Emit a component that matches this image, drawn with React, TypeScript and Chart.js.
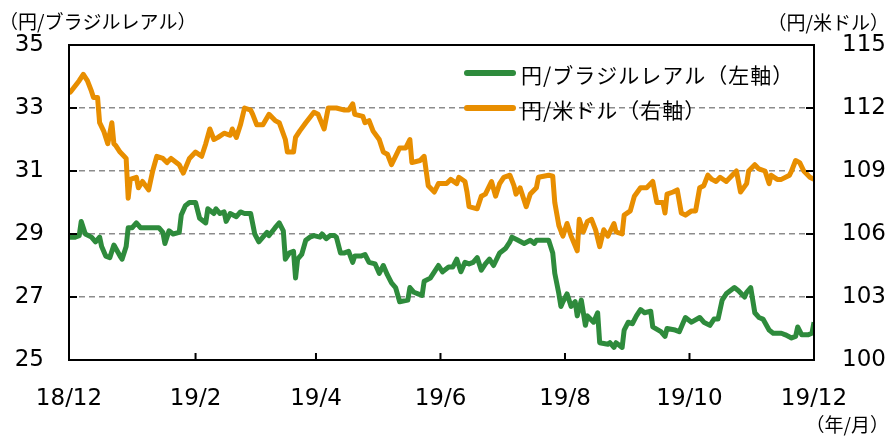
import React, { useEffect, useRef } from "react";
import { Chart, registerables } from "chart.js";

Chart.register(...registerables);

// x values are days counted from 2018-12-01
const xTickDays = [0, 62, 121, 182, 243, 304, 365];
const xTickLabels = ["18/12", "19/2", "19/4", "19/6", "19/8", "19/10", "19/12"];

const leftTitle = "（円/ブラジルレアル）";
const rightTitle = "（円/米ドル）";
const xTitle = "（年/月）";

const brlLabel = "円/ブラジルレアル（左軸）";
const usdLabel = "円/米ドル（右軸）";

const brlDays = [0, 3, 5, 6, 8, 11, 13, 15, 16, 18, 20, 22, 25, 26, 28, 29, 31, 33, 35, 38, 42, 44, 46, 47, 49, 51, 54, 55, 57, 59, 62, 64, 67, 68, 71, 72, 74, 76, 77, 79, 82, 84, 86, 89, 91, 93, 95, 97, 98, 101, 103, 105, 106, 108, 110, 111, 112, 114, 116, 118, 120, 123, 124, 126, 128, 130, 131, 133, 135, 137, 139, 140, 143, 145, 147, 150, 152, 154, 156, 158, 160, 162, 166, 167, 169, 171, 173, 174, 177, 179, 181, 183, 186, 188, 190, 192, 194, 196, 198, 200, 202, 204, 206, 208, 211, 214, 216, 217, 220, 223, 226, 228, 229, 232, 235, 237, 238, 240, 241, 242, 244, 246, 248, 249, 251, 253, 254, 257, 259, 260, 264, 265, 267, 268, 271, 272, 274, 276, 278, 280, 282, 285, 286, 290, 292, 293, 297, 299, 302, 305, 309, 311, 314, 316, 318, 320, 322, 326, 328, 331, 332, 334, 336, 338, 340, 343, 345, 349, 351, 354, 356, 357, 359, 362, 364, 365];
const brlValues = [28.9, 28.9, 28.95, 29.4, 29.0, 28.9, 28.75, 28.9, 28.6, 28.3, 28.25, 28.65, 28.3, 28.2, 28.6, 29.2, 29.2, 29.35, 29.2, 29.2, 29.2, 29.2, 29.05, 28.7, 29.1, 29.0, 29.05, 29.6, 29.9, 30.0, 30.0, 29.5, 29.35, 29.8, 29.65, 29.8, 29.65, 29.7, 29.4, 29.65, 29.55, 29.7, 29.65, 29.65, 29.0, 28.75, 28.9, 29.05, 28.95, 29.2, 29.35, 29.1, 28.2, 28.4, 28.45, 27.6, 28.2, 28.35, 28.8, 28.9, 28.95, 28.9, 29.0, 28.85, 28.95, 28.95, 28.9, 28.4, 28.4, 28.45, 28.1, 28.3, 28.3, 28.35, 28.1, 28.05, 27.75, 28.0, 27.7, 27.45, 27.3, 26.85, 26.9, 27.3, 27.15, 27.1, 27.05, 27.5, 27.6, 27.8, 28.0, 27.8, 27.95, 27.95, 28.2, 27.8, 28.1, 28.05, 28.1, 28.25, 27.85, 28.05, 28.2, 28.0, 28.4, 28.55, 28.75, 28.9, 28.8, 28.7, 28.8, 28.7, 28.8, 28.8, 28.8, 28.4, 27.75, 27.1, 26.7, 26.85, 27.1, 26.7, 26.85, 26.4, 26.9, 26.1, 26.4, 26.2, 26.5, 25.55, 25.5, 25.55, 25.4, 25.55, 25.4, 25.95, 26.2, 26.15, 26.4, 26.6, 26.5, 26.55, 26.05, 25.9, 25.75, 26.0, 25.95, 25.9, 26.35, 26.2, 26.35, 26.2, 26.1, 26.3, 26.3, 26.9, 27.1, 27.3, 27.2, 27.0, 27.15, 27.3, 26.5, 26.35, 26.3, 25.95, 25.85, 25.85, 25.8, 25.7, 25.75, 26.05, 25.8, 25.8, 25.85, 26.2];

const usdDays = [0, 1, 5, 7, 9, 11, 12, 14, 15, 17, 19, 21, 22, 23, 25, 27, 28, 29, 30, 33, 34, 36, 39, 41, 43, 46, 48, 50, 54, 56, 59, 62, 65, 67, 69, 71, 73, 76, 79, 80, 82, 84, 86, 89, 90, 92, 95, 98, 101, 103, 106, 107, 110, 111, 113, 116, 120, 122, 125, 127, 131, 135, 137, 139, 140, 144, 145, 147, 149, 152, 154, 156, 158, 162, 165, 167, 168, 172, 174, 176, 179, 181, 185, 187, 190, 191, 194, 195, 196, 200, 202, 204, 207, 209, 211, 213, 216, 218, 219, 221, 224, 226, 229, 230, 235, 237, 238, 240, 242, 244, 246, 249, 250, 252, 254, 256, 258, 260, 262, 264, 267, 268, 271, 272, 275, 277, 280, 283, 286, 288, 291, 292, 293, 296, 298, 300, 302, 305, 307, 309, 311, 313, 315, 317, 319, 322, 324, 327, 329, 332, 333, 336, 338, 341, 343, 344, 347, 349, 353, 354, 356, 358, 360, 363, 365];
const usdValues = [112.7, 112.8, 113.3, 113.6, 113.3, 112.8, 112.5, 112.5, 111.3, 110.9, 110.3, 111.3, 110.3, 110.2, 109.9, 109.7, 109.6, 107.7, 108.6, 108.7, 108.2, 108.5, 108.1, 109.0, 109.7, 109.6, 109.4, 109.6, 109.3, 108.9, 109.6, 109.9, 109.7, 110.3, 111.0, 110.5, 110.6, 110.8, 110.7, 111.0, 110.6, 111.2, 112.0, 111.9, 111.7, 111.2, 111.2, 111.7, 111.4, 111.3, 110.5, 109.9, 109.9, 110.6, 110.9, 111.3, 111.8, 111.7, 111.0, 112.0, 112.0, 111.9, 111.9, 112.2, 111.7, 111.6, 111.3, 111.4, 110.9, 110.5, 109.9, 109.8, 109.3, 110.1, 110.1, 110.5, 109.4, 109.5, 109.7, 108.3, 108.0, 108.4, 108.4, 108.6, 108.4, 108.7, 108.5, 108.0, 107.3, 107.2, 107.8, 107.9, 108.5, 107.8, 108.4, 108.7, 108.8, 108.3, 107.9, 108.2, 107.3, 107.9, 108.2, 108.7, 108.8, 108.75, 107.5, 106.4, 105.9, 106.5, 105.9, 105.2, 106.7, 106.1, 106.6, 106.7, 106.2, 105.4, 106.2, 105.9, 106.5, 106.1, 106.0, 106.9, 107.1, 107.8, 108.2, 108.2, 108.5, 107.5, 107.5, 107.0, 107.9, 108.0, 108.1, 107.0, 106.9, 107.1, 107.1, 108.2, 108.3, 108.8, 108.6, 108.5, 108.7, 108.5, 108.7, 109.0, 108.0, 108.4, 109.0, 109.3, 109.1, 109.0, 108.4, 108.8, 108.6, 108.6, 108.8, 109.0, 109.5, 109.4, 109.0, 108.7, 108.6];

const GREEN = "#2e8b3c";
const ORANGE = "#e88e00";
const NUM_FONT = "'DejaVu Sans', sans-serif";
const JP_FONT = "'Noto Sans CJK JP', sans-serif";

const decorPlugin = {
  id: "decor",
  afterDraw(chart: any) {
    const { ctx, chartArea } = chart;
    const { left, right, top, bottom } = chartArea;
    const x = chart.scales.x;
    const y = chart.scales.y;
    const y1 = chart.scales.y1;
    ctx.save();
    // frame
    ctx.strokeStyle = "#000";
    ctx.lineWidth = 2;
    ctx.setLineDash([]);
    ctx.beginPath();
    ctx.moveTo(left, top);
    ctx.lineTo(right, top);
    ctx.moveTo(left, top - 1);
    ctx.lineTo(left, bottom + 1);
    ctx.moveTo(right, top - 1);
    ctx.lineTo(right, bottom + 1);
    ctx.moveTo(left - 1, bottom);
    ctx.lineTo(right + 1, bottom);
    ctx.stroke();
    // inward ticks
    ctx.beginPath();
    y.ticks.forEach((t: any) => {
      const py = y.getPixelForValue(t.value);
      ctx.moveTo(left, py);
      ctx.lineTo(left + 8, py);
    });
    y1.ticks.forEach((t: any) => {
      const py = y1.getPixelForValue(t.value);
      ctx.moveTo(right, py);
      ctx.lineTo(right - 8, py);
    });
    x.ticks.forEach((t: any) => {
      const px = x.getPixelForValue(t.value);
      ctx.moveTo(px, bottom);
      ctx.lineTo(px, bottom - 7);
    });
    ctx.stroke();
    // axis titles
    ctx.fillStyle = "#000";
    ctx.font = `19px ${JP_FONT}`;
    ctx.textBaseline = "middle";
    ctx.textAlign = "left";
    ctx.fillText(leftTitle, -1, 22);
    ctx.textAlign = "right";
    ctx.fillText(rightTitle, 889, 23);
    ctx.fillText(xTitle, 889, 425);
    // legend
    const items = chart.data.datasets.map((d: any) => ({ label: d.label, color: d.borderColor }));
    const rows = [73, 108];
    ctx.font = `21px ${JP_FONT}`;
    ctx.textAlign = "left";
    try {
      (ctx as any).letterSpacing = "1px";
    } catch (e) {}
    items.forEach((it: any, i: number) => {
      ctx.strokeStyle = it.color;
      ctx.lineWidth = 6;
      ctx.lineCap = "round";
      ctx.beginPath();
      ctx.moveTo(467, rows[i]);
      ctx.lineTo(513, rows[i]);
      ctx.stroke();
      ctx.fillStyle = "#000";
      ctx.fillText(it.label, 521, rows[i] + 2);
    });
    try {
      (ctx as any).letterSpacing = "0px";
    } catch (e) {}
    ctx.restore();
  },
};

export default function App() {
  const ref = useRef<HTMLCanvasElement | null>(null);
  useEffect(() => {
    if (!ref.current) return;
    const chart = new Chart(ref.current, {
      type: "line",
      data: {
        datasets: [
          {
            label: brlLabel,
            data: brlDays.map((d, i) => ({ x: d, y: brlValues[i] })),
            borderColor: GREEN,
            backgroundColor: GREEN,
            borderWidth: 5,
            pointRadius: 0,
            tension: 0,
            borderJoinStyle: "round",
            yAxisID: "y",
          },
          {
            label: usdLabel,
            data: usdDays.map((d, i) => ({ x: d, y: usdValues[i] })),
            borderColor: ORANGE,
            backgroundColor: ORANGE,
            borderWidth: 5,
            pointRadius: 0,
            tension: 0,
            borderJoinStyle: "round",
            yAxisID: "y1",
          },
        ],
      },
      options: {
        animation: false,
        responsive: false,
        maintainAspectRatio: false,
        layout: { padding: { top: 45, left: 0, right: 0, bottom: 0 } },
        plugins: { legend: { display: false }, tooltip: { enabled: false } },
        scales: {
          x: {
            type: "linear",
            min: 0,
            max: 365,
            afterBuildTicks: (scale: any) => {
              scale.ticks = xTickDays.map((v) => ({ value: v }));
            },
            afterFit: (scale: any) => {
              scale.height = 77;
            },
            grid: { display: false, drawTicks: false },
            border: { display: false },
            ticks: {
              padding: 25,
              maxRotation: 0,
              autoSkip: false,
              color: "#000",
              font: { family: NUM_FONT, size: 23 },
              callback: (_v: any, i: number) => xTickLabels[i],
            },
          },
          y: {
            position: "left",
            min: 25,
            max: 35,
            afterFit: (scale: any) => {
              scale.width = 69;
            },
            ticks: {
              stepSize: 2,
              padding: 25,
              color: "#000",
              font: { family: NUM_FONT, size: 23 },
            },
            grid: {
              drawTicks: false,
              lineWidth: 1.5,
              color: (c: any) =>
                c.tick && (c.tick.value === 25 || c.tick.value === 35) ? "rgba(0,0,0,0)" : "#8c8c8c",
            },
            border: { display: false, dash: [6, 4] },
          },
          y1: {
            position: "right",
            min: 100,
            max: 115,
            afterFit: (scale: any) => {
              scale.width = 75;
            },
            ticks: {
              stepSize: 3,
              padding: 28,
              color: "#000",
              font: { family: NUM_FONT, size: 23 },
            },
            grid: { display: false, drawTicks: false },
            border: { display: false },
          },
        },
      },
      plugins: [decorPlugin],
    } as any);
    return () => chart.destroy();
  }, []);
  return (
    <div style={{ position: "absolute", left: 0, top: 0, width: 889, height: 437, background: "#fff" }}>
      <canvas ref={ref} width={889} height={437} style={{ width: 889, height: 437 }} />
    </div>
  );
}
